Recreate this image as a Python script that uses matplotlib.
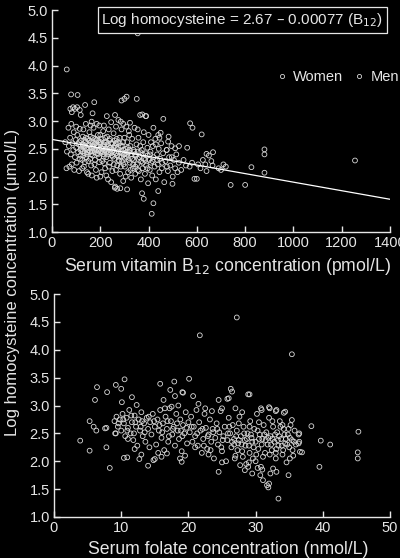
import numpy as np
import matplotlib
matplotlib.use('Agg')
import matplotlib.pyplot as plt
from matplotlib.lines import Line2D

# data: (x, log homocysteine)
b12_women = [
    (55, 2.62), (60, 2.15), (62, 2.45), (68, 2.88), (70, 2.55), (72, 2.18), (75, 2.70), (78, 2.40),
    (80, 2.95), (82, 2.22), (85, 2.60), (88, 2.48), (90, 2.80), (92, 2.12), (95, 2.35), (98, 2.66),
    (100, 2.52), (100, 2.90), (102, 2.25), (105, 2.75), (108, 2.44), (110, 2.58), (112, 2.10), (115, 2.86),
    (118, 2.38), (120, 2.65), (122, 2.50), (125, 2.30), (128, 2.72), (130, 2.55), (132, 2.18), (135, 2.42),
    (138, 2.62), (140, 2.95), (142, 2.35), (145, 2.50), (148, 2.68), (150, 2.28), (150, 2.05), (152, 2.58),
    (155, 2.80), (157, 2.45), (160, 2.62), (162, 2.20), (165, 2.52), (168, 2.38), (170, 2.70), (172, 2.88),
    (175, 2.48), (178, 2.30), (180, 2.60), (182, 2.12), (185, 2.55), (188, 2.42), (190, 2.75), (192, 2.65),
    (195, 2.35), (198, 2.50), (200, 2.58), (200, 2.00), (196, 2.92), (203, 2.45), (205, 2.68), (208, 2.28),
    (210, 2.55), (212, 2.82), (215, 2.40), (218, 2.62), (220, 2.15), (222, 2.50), (225, 2.35), (228, 2.72),
    (230, 2.58), (232, 1.95), (235, 2.44), (238, 2.65), (240, 2.25), (242, 2.52), (245, 2.98), (248, 2.38),
    (250, 2.60), (250, 2.10), (253, 2.48), (255, 2.78), (258, 2.32), (260, 2.55), (262, 1.82), (265, 2.42),
    (268, 2.68), (270, 2.20), (272, 2.50), (275, 3.02), (278, 2.36), (280, 2.60), (282, 2.05), (285, 2.45),
    (288, 2.85), (290, 2.28), (292, 2.55), (295, 1.92), (298, 2.40), (300, 2.70), (302, 2.18), (305, 2.50),
    (308, 2.90), (310, 2.35), (312, 2.62), (315, 2.08), (318, 2.44), (320, 2.75), (322, 2.25), (325, 2.55),
    (328, 1.98), (330, 2.40), (332, 2.68), (335, 2.15), (338, 2.48), (340, 2.30), (342, 2.88), (345, 2.05),
    (348, 2.38), (350, 2.58), (352, 2.22), (355, 2.45), (358, 2.70), (360, 2.10), (362, 2.35), (365, 2.55),
    (368, 1.95), (370, 2.28), (372, 2.48), (375, 2.15), (378, 2.62), (380, 2.32), (385, 2.05), (388, 2.42),
    (390, 2.20), (395, 2.52), (398, 1.88), (402, 2.30), (405, 2.12), (408, 2.45), (410, 2.25), (415, 2.02),
    (418, 2.55), (420, 2.35), (425, 2.18), (428, 2.68), (430, 1.95), (435, 2.40), (438, 2.22), (442, 2.50),
    (445, 2.08), (448, 2.32), (452, 2.60), (455, 2.15), (460, 2.42), (465, 1.90), (470, 2.28), (475, 2.48),
    (480, 2.10), (485, 2.35), (490, 2.20), (495, 2.55), (500, 2.00), (505, 2.30), (510, 2.15), (515, 2.40),
    (520, 2.08),
    (112, 2.62), (118, 2.48), (128, 2.58), (134, 2.66), (142, 2.52), (148, 2.44), (156, 2.56), (162, 2.40),
    (168, 2.62), (174, 2.50), (178, 2.44), (184, 2.66), (188, 2.56), (194, 2.46), (202, 2.62), (208, 2.50),
    (214, 2.36), (218, 2.48), (224, 2.62), (232, 2.40), (238, 2.52), (244, 2.60), (252, 2.36), (258, 2.44),
    (264, 2.52), (272, 2.62), (278, 2.28), (286, 2.36), (294, 2.62), (302, 2.32), (312, 2.40), (322, 2.48),
    (332, 2.32), (344, 2.40), (356, 2.32), (366, 2.44), (376, 2.40), (386, 2.30), (396, 2.38), (406, 2.40),
]
b12_men = [
    (525, 2.25), (535, 2.12), (545, 2.30), (555, 2.20), (560, 2.52), (570, 2.18), (580, 2.25), (590, 1.96),
    (600, 1.96), (605, 2.22), (615, 2.15), (625, 2.30), (635, 2.22), (640, 2.10), (650, 2.38), (660, 2.28),
    (665, 2.20), (690, 2.15), (700, 2.12), (710, 2.22), (720, 2.18),
    (355, 4.58), (61, 3.93), (79, 3.48), (106, 3.47), (309, 3.44), (300, 3.40), (288, 3.37), (351, 3.40),
    (175, 3.34), (137, 3.29), (104, 3.25), (76, 3.22), (115, 3.20), (168, 3.14), (461, 3.04), (374, 3.12),
    (388, 3.09), (572, 2.96), (582, 2.88), (620, 2.76), (420, 2.88), (483, 2.72), (526, 2.55), (640, 2.41),
    (667, 2.44), (880, 2.49), (880, 2.40), (1255, 2.29), (826, 2.17), (880, 2.07), (740, 1.85), (800, 1.85),
    (499, 1.87), (420, 1.52), (413, 1.33), (440, 1.74), (380, 1.60), (373, 1.70), (283, 1.79), (311, 1.77),
    (82, 3.16), (95, 3.22), (87, 3.25), (119, 3.11), (261, 3.11), (227, 3.09), (365, 3.11), (390, 3.09),
    (164, 2.99), (285, 2.99), (323, 2.97), (450, 2.79), (440, 2.75), (481, 2.63), (475, 2.48), (510, 2.51),
    (125, 2.45), (135, 2.55), (145, 2.40), (155, 2.65), (165, 2.45), (175, 2.58), (185, 2.48), (195, 2.62),
    (205, 2.52), (215, 2.58), (225, 2.45), (235, 2.55), (245, 2.42), (255, 2.52), (265, 2.60), (275, 2.45),
    (285, 2.55), (295, 2.48), (305, 2.42), (315, 2.52), (130, 2.38), (150, 2.48), (170, 2.55), (190, 2.40),
    (210, 2.45), (230, 2.50), (250, 2.45), (270, 2.38), (290, 2.42), (310, 2.45), (140, 2.70), (160, 2.72),
    (180, 2.68), (200, 2.75), (220, 2.70), (240, 2.68), (260, 2.65), (280, 2.70), (120, 2.55), (340, 2.45),
    (125, 2.15), (145, 2.08), (165, 2.02), (185, 1.98), (205, 2.08), (225, 2.02), (245, 1.90), (265, 2.12),
    (285, 2.18), (305, 2.00), (325, 2.12), (345, 2.18), (270, 1.78), (260, 1.80),
    (130, 2.85), (160, 2.92), (185, 2.95), (215, 2.92), (235, 2.85), (265, 2.90), (295, 2.95), (318, 2.82),
    (355, 2.85), (380, 2.80), (400, 2.75), (410, 2.62), (430, 2.58), (445, 2.70),
    (116, 2.32), (136, 2.26), (158, 2.32), (176, 2.22), (196, 2.26), (216, 2.24), (236, 2.18), (256, 2.22),
    (276, 2.30), (296, 2.22), (316, 2.30), (336, 2.22), (356, 2.12), (376, 2.25), (396, 2.15), (416, 2.28),
    (436, 2.30), (456, 2.25), (476, 2.18), (496, 2.35),
]

folate_women = [
    (3.9, 2.37), (5.3, 2.19), (5.3, 2.72), (5.9, 2.62), (6.3, 2.55), (6.4, 3.33), (6.1, 3.10), (7.8, 2.60),
    (7.8, 2.25), (8.3, 1.88), (7.9, 3.24), (9.2, 3.37), (10.0, 3.30), (10.5, 3.47), (9.2, 2.50), (10.4, 2.06),
    (7.6, 2.59), (9.1, 2.50),
    (9.0, 2.72), (9.3, 2.80), (9.5, 2.62), (9.8, 2.75), (10.0, 2.55), (10.2, 2.85), (10.4, 2.68), (10.6, 2.45),
    (10.8, 2.78), (11.0, 2.60), (11.2, 2.92), (11.4, 2.50), (11.6, 2.70), (11.8, 2.38), (12.0, 2.82), (12.2, 2.62),
    (12.4, 2.28), (12.6, 2.75), (12.8, 2.55), (13.0, 2.88), (13.2, 2.45), (13.4, 2.68), (13.6, 2.35), (13.8, 2.78),
    (14.0, 2.58), (10.1, 3.06), (11.6, 3.15), (12.3, 3.01), (11.0, 2.40), (12.0, 2.22), (13.0, 2.12), (14.2, 2.25),
    (14.3, 2.70), (14.5, 2.48), (14.7, 2.85), (15.0, 2.62), (15.2, 2.30), (15.4, 2.75), (15.6, 2.55), (15.8, 2.92),
    (16.0, 2.42), (16.2, 2.68), (16.4, 2.20), (16.6, 2.80), (16.8, 2.58), (17.0, 2.35), (17.2, 2.95), (17.4, 2.72),
    (17.6, 2.48), (17.8, 2.62), (18.0, 2.28), (18.2, 2.85), (18.4, 2.55), (18.6, 2.40), (18.8, 2.75), (19.0, 2.18),
    (19.2, 2.65), (19.4, 2.50), (19.6, 2.88), (19.8, 2.32), (20.0, 2.70), (15.5, 2.15), (16.5, 2.95), (17.5, 2.98),
    (18.5, 3.00), (19.5, 2.10), (14.8, 2.02), (15.0, 2.04), (16.0, 2.08), (16.8, 2.14), (18.75, 2.05), (19.0, 1.99),
    (14.0, 1.92), (12.7, 2.04), (10.9, 2.07), (16.3, 3.10), (18.0, 3.17), (19.2, 3.23), (15.8, 3.39), (17.9, 3.43),
    (17.3, 3.28), (19.1, 3.24), (20.1, 3.48),
    (20.2, 2.52), (20.4, 2.80), (20.6, 2.35), (20.8, 2.62), (21.0, 2.45), (21.2, 2.92), (21.4, 2.28), (21.6, 2.70),
    (21.8, 2.55), (22.0, 2.15), (22.2, 2.40), (22.4, 2.85), (22.6, 2.60), (22.8, 2.22), (23.0, 2.48), (23.2, 2.75),
    (23.4, 2.35), (23.6, 2.58), (23.8, 2.05), (24.0, 2.42), (24.2, 2.68), (24.4, 2.30), (24.6, 2.52), (24.8, 2.90),
    (25.0, 2.18), (25.2, 2.45), (25.4, 2.62), (25.6, 2.00), (25.8, 2.38), (26.0, 2.78), (20.7, 3.17), (21.5, 3.03),
    (24.5, 3.10), (26.0, 3.13), (26.5, 3.25), (24.5, 1.81), (21.7, 4.26), (22.5, 2.95), (23.5, 2.90),
    (25.0, 2.95), (25.8, 3.12), (26.3, 3.30), (21.0, 2.25), (23.0, 2.12), (25.0, 1.98),
    (9.6, 2.68), (10.3, 2.75), (10.9, 2.55), (11.5, 2.82), (12.1, 2.70), (12.9, 2.62), (13.5, 2.52), (14.1, 2.80),
    (14.9, 2.72), (15.7, 2.65), (16.1, 2.52), (16.9, 2.72), (17.7, 2.58), (18.3, 2.68), (19.1, 2.45), (19.7, 2.60),
    (13.1, 2.72), (11.9, 2.50), (17.1, 2.45), (18.9, 2.55),
    (20.5, 2.62), (21.3, 2.50), (22.1, 2.58), (22.9, 2.45), (23.7, 2.52), (24.3, 2.58), (25.1, 2.38), (25.9, 2.50),
    (24.9, 2.25), (23.3, 2.20), (22.3, 2.28),
]
folate_men = [
    (26.2, 2.50), (26.4, 2.25), (26.6, 2.65), (26.8, 2.40), (27.0, 2.10), (27.2, 2.55), (27.4, 2.32), (27.6, 2.80),
    (27.8, 2.45), (28.0, 2.18), (28.2, 2.62), (28.4, 2.38), (28.6, 1.95), (28.8, 2.50), (29.0, 2.28), (29.2, 2.72),
    (29.4, 2.42), (29.6, 2.05), (29.8, 2.58), (30.0, 2.35), (30.2, 2.85), (30.4, 2.22), (30.6, 2.48), (30.8, 1.90),
    (31.0, 2.40), (31.2, 2.65), (31.4, 2.15), (31.6, 2.52), (31.8, 2.30), (32.0, 2.78), (27.7, 1.93), (28.4, 1.84),
    (30.7, 1.75), (31.1, 1.66), (31.9, 1.53), (31.7, 1.57), (32.0, 1.60), (29.1, 3.20), (28.9, 3.20),
    (30.8, 2.95), (30.9, 2.92), (32.0, 2.97), (27.2, 4.58), (26.8, 2.30), (27.5, 2.38), (28.5, 2.28), (29.5, 2.35),
    (30.5, 2.40), (31.5, 2.38), (27.0, 2.95), (28.0, 2.88), (29.0, 1.98), (30.0, 2.00), (31.0, 1.85), (29.5, 1.78),
    (32.2, 2.45), (32.4, 2.20), (32.6, 2.62), (32.8, 2.35), (33.0, 2.05), (33.2, 2.52), (33.4, 2.28), (33.6, 2.72),
    (33.8, 2.40), (34.0, 2.12), (34.2, 2.58), (34.4, 2.32), (34.6, 1.98), (34.8, 2.48), (35.0, 2.25), (35.2, 2.65),
    (35.4, 2.38), (35.6, 2.10), (35.8, 2.55), (36.0, 2.30), (33.1, 2.92), (32.1, 2.95), (34.4, 2.89), (33.0, 2.90),
    (34.2, 2.87), (35.4, 2.74), (36.6, 2.17), (36.4, 2.32), (36.4, 2.48), (36.9, 2.16), (36.5, 2.50), (36.5, 2.35),
    (32.6, 1.87), (33.1, 1.81), (34.9, 1.75), (33.4, 1.33), (32.2, 1.78), (35.4, 3.92), (32.5, 2.40),
    (33.5, 2.45), (34.5, 2.40), (35.5, 2.20), (33.0, 2.15), (34.0, 2.65),
    (38.3, 2.63), (39.7, 2.37), (41.1, 2.30), (39.5, 1.90), (45.3, 2.53), (45.2, 2.16), (45.2, 2.05),
    (26.5, 2.35), (27.1, 2.45), (27.9, 2.30), (28.3, 2.50), (28.7, 2.40), (29.3, 2.48), (29.7, 2.25), (30.3, 2.55),
    (30.9, 2.30), (31.3, 2.48), (31.9, 2.42), (32.3, 2.30), (32.9, 2.48), (33.3, 2.38), (33.9, 2.28), (34.3, 2.48),
    (34.7, 2.30), (35.1, 2.42), (35.7, 2.35), (27.3, 2.20), (28.1, 2.08), (29.1, 2.15), (30.1, 2.12), (31.1, 2.08),
    (32.1, 2.12), (33.1, 2.22), (34.1, 2.20), (35.1, 2.05), (26.1, 2.62), (27.5, 2.68), (29.1, 2.62), (30.5, 2.70),
    (32.5, 2.72), (33.7, 2.62), (34.9, 2.58), (26.9, 2.05), (28.9, 1.90), (30.3, 1.88),
]

# regression line for the top panel
intercept = 2.67
slope = -0.00077
b12_line = [0, 1400]

b12_ticks = [0, 200, 400, 600, 800, 1000, 1200, 1400]
folate_ticks = [0, 10, 20, 30, 40, 50]
hcy_ticks = [1.0, 1.5, 2.0, 2.5, 3.0, 3.5, 4.0, 4.5, 5.0]

fg = '#e6e6e6'
plt.rcParams['font.family'] = ['Liberation Sans', 'DejaVu Sans']

fig = plt.figure(figsize=(4.0, 5.58), dpi=100, facecolor='black')
ax1 = fig.add_axes([0.13, 0.584, 0.845, 0.398])
ax2 = fig.add_axes([0.135, 0.0735, 0.84, 0.3995])

marker_kw = dict(s=12, facecolors='none', edgecolors='#d8d8d8', linewidths=0.6)

def style_axes(ax, xticks, xmax):
    ax.set_facecolor('black')
    for side in ['top', 'right']:
        ax.spines[side].set_visible(False)
    for side in ['left', 'bottom']:
        ax.spines[side].set_color(fg)
        ax.spines[side].set_linewidth(1.0)
    ax.set_xlim(0, xmax)
    ax.set_ylim(1.0, 5.0)
    ax.set_xticks(xticks)
    ax.set_yticks(hcy_ticks)
    ax.set_yticklabels([f'{t:.1f}' for t in hcy_ticks])
    ax.tick_params(direction='in', length=4, width=1.0, colors=fg, labelsize=10.5, pad=3)

w = np.array(b12_women).T
m = np.array(b12_men).T
ax1.scatter(w[0], w[1], **marker_kw)
ax1.scatter(m[0], m[1], **marker_kw)
ax1.plot(b12_line, [intercept + slope * v for v in b12_line], color='white', lw=0.9)
style_axes(ax1, b12_ticks, 1400)
ax1.set_xlabel('Serum vitamin B$_{12}$ concentration (pmol/L)', color=fg, fontsize=12.7, labelpad=4)
ax1.xaxis.label.set_x(0.52)
ax1.text(0.98, 0.995, 'Log homocysteine = 2.67 \u2013 0.00077 (B$_{12}$)', transform=ax1.transAxes,
         ha='right', va='top', color=fg, fontsize=11,
         bbox=dict(boxstyle='square,pad=0.25', facecolor='black', edgecolor=fg, lw=0.9))

handles = [Line2D([], [], ls='none', marker='o', markersize=3, markerfacecolor='none',
                  markeredgecolor='#d8d8d8', markeredgewidth=0.6) for _ in range(2)]
leg = fig.legend(handles, ['Women', 'Men'], ncol=2, loc='center left', bbox_to_anchor=(0.695, 0.862),
                 frameon=False, fontsize=10.5, handlelength=0.6, handletextpad=0.45, columnspacing=0.8,
                 borderpad=0, borderaxespad=0)
for t in leg.get_texts():
    t.set_color(fg)

fw = np.array(folate_women).T
fm = np.array(folate_men).T
ax2.scatter(fw[0], fw[1], **marker_kw)
ax2.scatter(fm[0], fm[1], **marker_kw)
style_axes(ax2, folate_ticks, 50)
ax2.set_xlabel('Serum folate concentration (nmol/L)', color=fg, fontsize=12.7, labelpad=4)
ax2.xaxis.label.set_x(0.52)

fig.text(0.032, 0.493, 'Log homocysteine concentration (\u03bcmol/L)', rotation=90,
         ha='center', va='center', color=fg, fontsize=12)

fig.savefig('out.png', dpi=100, facecolor='black')
